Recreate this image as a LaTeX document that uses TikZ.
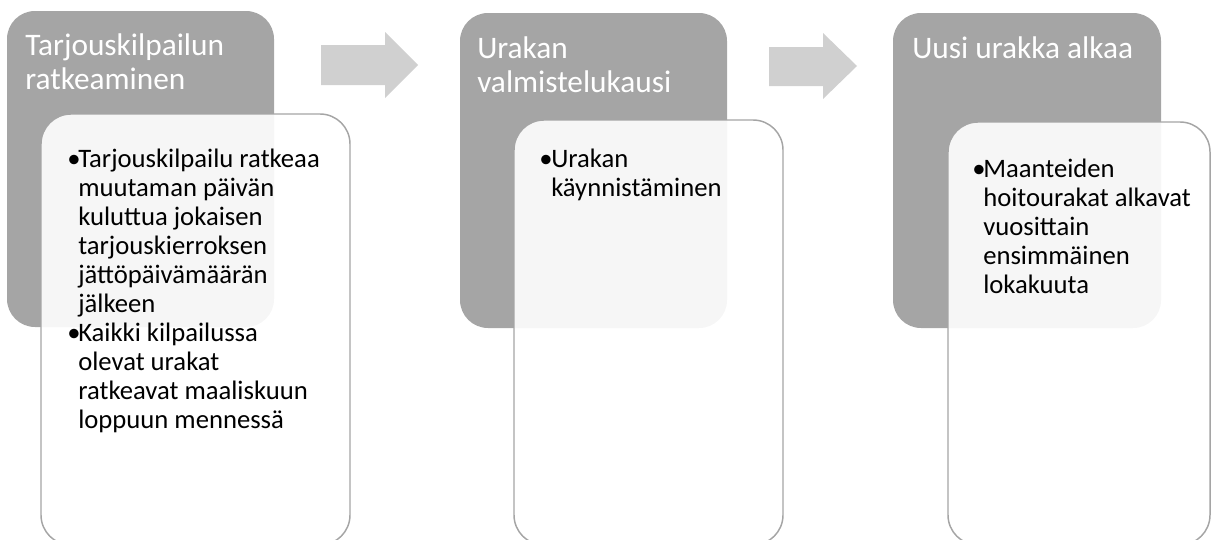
\documentclass[tikz,border=0pt]{standalone}
\usepackage{fontspec}
\setmainfont{Carlito}
\usepackage{xcolor}

\definecolor{hdrgray}{RGB}{165,165,165}
\definecolor{arrgray}{RGB}{208,208,208}

% lines stacked from the first baseline down
\newcommand{\txtlines}[1]{\begin{tabular}[t]{@{}l@{}}#1\end{tabular}}

\tikzset{
	headbox/.style={fill=hdrgray, draw=none, rounded corners=21pt},
	bodybox/.style={fill=white, fill opacity=0.9, draw=hdrgray, draw opacity=1, line width=1.1pt, rounded corners=22.5pt},
	flowarrow/.style={fill=arrgray, draw=none},
	headtxt/.style={anchor=base west, inner sep=0pt, text=white, font=\fontsize{23.5}{26.2}\selectfont},
	bodytxt/.style={anchor=base west, inner sep=0pt, text=black, font=\fontsize{20}{21.75}\selectfont},
}

\begin{document}
\begin{tikzpicture}[x=0.75pt,y=0.75pt,yscale=-1,xscale=1]
				\clip (0,0) rectangle (1213,539);
				
				%Shape: Rounded Rectangle [id:hdr1] 
				\draw [headbox] (7,11) rectangle (274,327) ;
				%Shape: Rounded Rectangle [id:hdr2] 
				\draw [headbox] (460,13) rectangle (727,328) ;
				%Shape: Rounded Rectangle [id:hdr3] 
				\draw [headbox] (893,13) rectangle (1161,328) ;
				
				%Shape: Rounded Rectangle [id:body1] 
				\draw [bodybox] (41,114) rectangle (350,545) ;
				%Shape: Rounded Rectangle [id:body2] 
				\draw [bodybox] (514,120) rectangle (783,545) ;
				%Shape: Rounded Rectangle [id:body3] 
				\draw [bodybox] (948,122) rectangle (1210,545) ;
				
				%Shape: Right Arrow [id:arr1] 
				\draw [flowarrow] (321,45) -- (385,45) -- (385,32) -- (418,65) -- (385,98) -- (385,85) -- (321,85) -- cycle ;
				%Shape: Right Arrow [id:arr2] 
				\draw [flowarrow] (769,47) -- (823,47) -- (823,33) -- (857,66) -- (823,99) -- (823,86) -- (769,86) -- cycle ;
				
				% Text Node
				\draw (25,55) node [headtxt] (head1) {\txtlines{Tarjouskilpailun\\ratkeaminen}};
				% Text Node
				\draw (477,58) node [headtxt] (head2) {\txtlines{Urakan\\valmistelukausi}};
				% Text Node
				\draw (912,58) node [headtxt] (head3) {Uusi urakka alkaa};
				
				% Text Node
				\draw (67,167) node [bodytxt] (dot1a) {•};
				\draw (78,167) node [bodytxt] (item1a) {\txtlines{Tarjouskilpailu ratkeaa\\muutaman päivän\\kuluttua jokaisen\\tarjouskierroksen\\jättöpäivämäärän\\jälkeen}};
				% Text Node
				\draw (67,341) node [bodytxt] (dot1b) {•};
				\draw (78,341) node [bodytxt] (item1b) {\txtlines{Kaikki kilpailussa\\olevat urakat\\ratkeavat maaliskuun\\loppuun mennessä}};
				% Text Node
				\draw (539,167) node [bodytxt] (dot2) {•};
				\draw (551,167) node [bodytxt] (item2) {\txtlines{Urakan\\käynnistäminen}};
				% Text Node
				\draw (972,177) node [bodytxt] (dot3) {•};
				\draw (983,177) node [bodytxt] (item3) {\txtlines{Maanteiden\\hoitourakat alkavat\\vuosittain\\ensimmäinen\\lokakuuta}};
				
			\end{tikzpicture}
\end{document}
